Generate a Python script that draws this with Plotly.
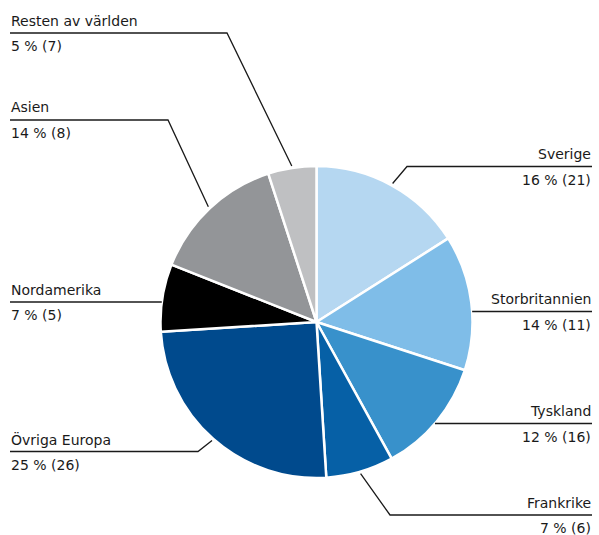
import math
import plotly.graph_objects as go

# ---- data ----
regions = ["Sverige", "Storbritannien", "Tyskland", "Frankrike",
           "Övriga Europa", "Nordamerika", "Asien", "Resten av världen"]
shares = [16, 14, 12, 7, 25, 7, 14, 5]          # percent
previous = [21, 11, 16, 6, 26, 5, 8, 7]          # value in parentheses
colors = ["#b5d7f1", "#7fbde8", "#3891cb", "#0660a6",
          "#004a8d", "#000000", "#939598", "#bfc0c2"]

W, H = 599, 535
CX, CY, R = 316.5, 322.0, 156.0  # pie geometry in pixels

# label layout: side, y of horizontal rule, x of elbow (None = straight to pie edge)
layout_info = {
    "Sverige":           ("right", 166.5, 407),
    "Storbritannien":    ("right", 311.5, None),
    "Tyskland":          ("right", 423.5, None),
    "Frankrike":         ("right", 515.0, 390),
    "Övriga Europa":     ("left", 451.5, 198),
    "Nordamerika":       ("left", 302.0, None),
    "Asien":             ("left", 120.0, 168),
    "Resten av världen": ("left", 33.0, 227),
}
X_LEFT, X_RIGHT = 10, 592
FONT = "DejaVu Sans"
FS = 14


def px(x):
    return x / W


def py(y):
    return 1 - y / H


fig = go.Figure(go.Pie(
    labels=regions, values=shares, sort=False, direction="clockwise",
    rotation=0, textinfo="none", hoverinfo="label+percent",
    marker=dict(colors=colors, line=dict(color="white", width=2.5)),
    domain=dict(x=[px(CX - R), px(CX + R)], y=[py(CY + R), py(CY - R)]),
    showlegend=False,
))

shapes = []
annotations = []
total = sum(shares)
cum = 0
for name, val, prev in zip(regions, shares, previous):
    mid = (cum + val / 2) / total * 2 * math.pi
    cum += val
    side, yl, xe = layout_info[name]
    if xe is None:
        # horizontal rule meets the pie edge
        dy = yl - CY
        dx = math.sqrt(max(R * R - dy * dy, 0))
        ax = CX + dx if side == "right" else CX - dx
        ay = yl
        xe = ax
    else:
        rr = R + 2
        ax = CX + math.sin(mid) * rr
        ay = CY - math.cos(mid) * rr
    xo = X_RIGHT if side == "right" else X_LEFT
    path = f"M {px(xo)} {py(yl)} L {px(xe)} {py(yl)} L {px(ax)} {py(ay)}"
    shapes.append(dict(type="path", path=path, xref="paper", yref="paper",
                       line=dict(color="#1a1a1a", width=1.3)))
    anchor = "right" if side == "right" else "left"
    annotations.append(dict(x=px(xo), y=py(yl - 12.5), xref="paper", yref="paper",
                            text=name, showarrow=False, xanchor=anchor,
                            yanchor="middle", borderpad=0,
                            font=dict(family=FONT, size=FS, color="#1a1a1a")))
    annotations.append(dict(x=px(xo), y=py(yl + 12.5), xref="paper", yref="paper",
                            text=f"{val} % ({prev})", showarrow=False, xanchor=anchor,
                            yanchor="middle", borderpad=0, height=15,
                            font=dict(family=FONT, size=FS, color="#1a1a1a")))

fig.update_layout(
    width=W, height=H, margin=dict(l=0, r=0, t=0, b=0),
    paper_bgcolor="white", plot_bgcolor="white",
    shapes=shapes, annotations=annotations,
)
fig.write_html("out.html", config={"displayModeBar": False},
               post_script="document.body.style.margin='0';")
